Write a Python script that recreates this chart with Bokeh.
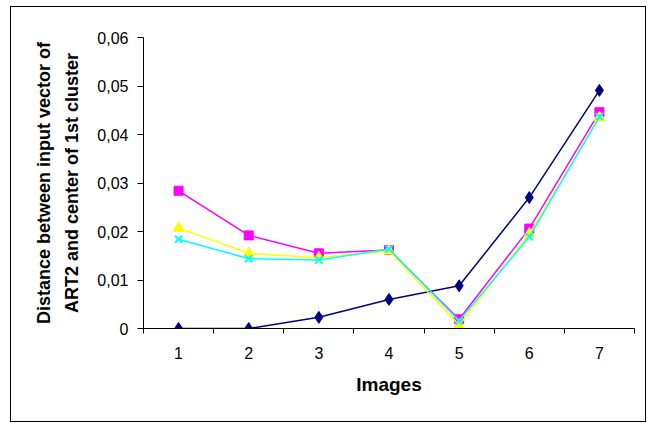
from bokeh.plotting import figure
from bokeh.models import Range1d, FixedTicker
from bokeh.embed import file_html
from bokeh.resources import INLINE

images = [1, 2, 3, 4, 5, 6, 7]
series_navy = [0.0, 0.0, 0.0023, 0.0060, 0.0088, 0.0270, 0.0491]
series_magenta = [0.0284, 0.0192, 0.0155, 0.0162, 0.0019, 0.0206, 0.0446]
series_yellow = [0.0207, 0.0155, 0.0146, 0.0160, 0.0007, 0.0195, 0.0435]
series_cyan = [0.0184, 0.0144, 0.0141, 0.0164, 0.0016, 0.0189, 0.0437]
y_ticks = [0, 0.01, 0.02, 0.03, 0.04, 0.05, 0.06]
y_tick_labels = ["0", "0,01", "0,02", "0,03", "0,04", "0,05", "0,06"]

FONT = "Liberation Sans"

p = figure(width=636, height=416, output_backend="svg", toolbar_location=None,
           x_range=Range1d(0.5, 7.5), y_range=Range1d(0, 0.06),
           min_border_left=132, min_border_right=13, min_border_top=30, min_border_bottom=95)
p.styles = {"margin-left": "10px", "margin-top": "6px",
            "border": "1.5px solid black", "box-sizing": "border-box"}
p.outline_line_color = None
p.xgrid.visible = False
p.ygrid.visible = False
p.background_fill_color = "white"
p.border_fill_color = "white"

p.xaxis.ticker = FixedTicker(ticks=images, minor_ticks=[i + 0.5 for i in range(0, 8)])
p.xaxis.major_tick_line_color = None
p.xaxis.major_tick_out = 0
p.xaxis.major_tick_in = 0
p.xaxis.minor_tick_out = 5
p.xaxis.minor_tick_in = 0
p.xaxis.minor_tick_line_color = "black"
p.yaxis.ticker = FixedTicker(ticks=y_ticks, minor_ticks=[])
p.yaxis.major_label_overrides = {t: l for t, l in zip(y_ticks, y_tick_labels)}
p.yaxis.major_tick_out = 6
p.yaxis.major_tick_in = 0
p.yaxis.major_tick_line_color = "black"
for ax in (p.xaxis, p.yaxis):
    ax.axis_line_color = "black"
    ax.major_label_text_font = FONT
    ax.major_label_text_font_size = "16px"
    ax.major_label_text_color = "black"
    ax.axis_label_text_font = FONT
    ax.axis_label_text_font_style = "bold"
    ax.axis_label_text_color = "black"
p.xaxis.axis_label = "Images"
p.xaxis.axis_label_text_font_size = "19px"
p.xaxis.major_label_standoff = 13
p.xaxis.axis_label_standoff = 12
p.yaxis.axis_label = "Distance between input vector of\nART2 and center of 1st cluster"
p.yaxis.axis_label_text_font_size = "18px"
p.yaxis.axis_label_text_line_height = 1.4
p.yaxis.major_label_standoff = 9
p.yaxis.axis_label_standoff = 12

p.line(images, series_navy, line_color="#000080", line_width=1.5)
p.scatter(images, series_navy, marker="diamond", size=12, fill_color="#000080", line_color="#000080")
p.line(images, series_magenta, line_color="#FF00FF", line_width=1.5)
p.scatter(images, series_magenta, marker="square", size=9, fill_color="#FF00FF", line_color="#FF00FF")
p.line(images, series_yellow, line_color="#FFFF00", line_width=1.5)
p.scatter(images, series_yellow, marker="triangle", size=11, fill_color="#FFFF00", line_color="#FFFF00")
p.line(images, series_cyan, line_color="#00FFFF", line_width=1.5)
p.scatter(images, series_cyan, marker="x", size=10, line_color="#00FFFF", line_width=2)

open("out.html", "w").write(file_html(p, INLINE))
